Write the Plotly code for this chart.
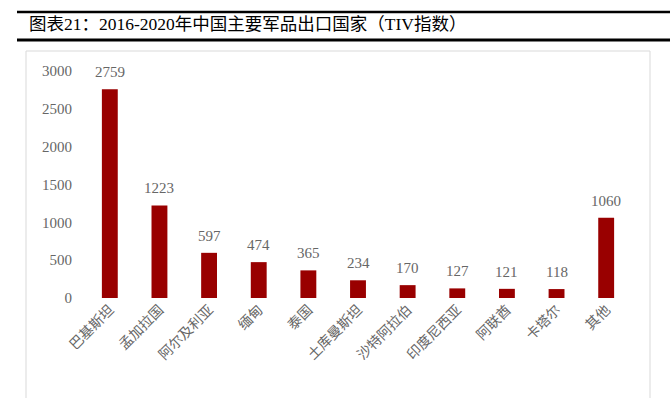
import plotly.graph_objects as go

categories = ["巴基斯坦", "孟加拉国", "阿尔及利亚", "缅甸", "泰国", "土库曼斯坦",
              "沙特阿拉伯", "印度尼西亚", "阿联酋", "卡塔尔", "其他"]
values = [2759, 1223, 597, 474, 365, 234, 170, 127, 121, 118, 1060]
y_ticks = [0, 500, 1000, 1500, 2000, 2500, 3000]
title_text = "图表21：2016-2020年中国主要军品出口国家（TIV指数）"

W, H = 670, 398
L, R, T, B = 85, 39, 71, 100
pw, ph = W - L - R, H - T - B

def px(x):
    return (x - L) / pw

def py(y):
    return (H - B - y) / ph

fig = go.Figure()
fig.add_trace(go.Bar(
    x=categories, y=values, marker_color="#990000",
    marker_line_width=0, width=0.32, hoverinfo="x+y",
))

for c, v in zip(categories, values):
    fig.add_annotation(x=c, y=v, text=str(v), showarrow=False,
                       yanchor="bottom", yshift=7,
                       font=dict(family="Liberation Serif", size=15, color="#666666"))

fig.update_layout(
    width=W, height=H,
    margin=dict(l=L, r=R, t=T, b=B),
    paper_bgcolor="white", plot_bgcolor="white",
    showlegend=False,
    xaxis=dict(showgrid=False, showline=False, zeroline=False, ticks="",
               tickangle=-45,
               tickfont=dict(family="Noto Sans CJK SC", size=14, color="#666666")),
    yaxis=dict(range=[0, 3000], tickvals=y_ticks, showgrid=False, showline=False,
               zeroline=False, ticks="", ticklabelstandoff=12,
               tickfont=dict(family="Liberation Serif", size=15, color="#666666")),
    shapes=[
        dict(type="line", xref="paper", yref="paper", x0=px(17), x1=px(670),
             y0=py(12), y1=py(12), line=dict(color="black", width=2.5)),
        dict(type="line", xref="paper", yref="paper", x0=px(17), x1=px(670),
             y0=py(40), y1=py(40), line=dict(color="black", width=3)),
        dict(type="rect", xref="paper", yref="paper", x0=px(26), x1=px(650),
             y0=py(410), y1=py(51), line=dict(color="#d9d9d9", width=1)),
    ],
)
fig.add_annotation(xref="paper", yref="paper", x=px(27), y=py(24),
                   xanchor="left", yanchor="middle", showarrow=False,
                   text=title_text,
                   font=dict(family="Liberation Serif, Noto Sans CJK SC", size=17.5, color="black"))

fig.write_html("out.html", config={"displayModeBar": False},
               post_script="document.body.style.margin='0';document.body.style.overflow='hidden';")
